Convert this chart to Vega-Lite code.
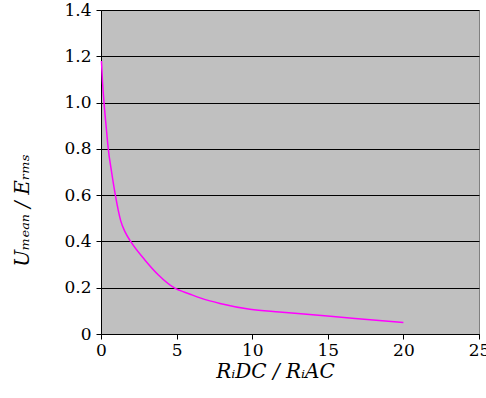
{
  "$schema": "https://vega.github.io/schema/vega-lite/v6.json",
  "width": 378,
  "height": 324,
  "autosize": "none",
  "padding": {"left": 101, "top": 10, "right": 7, "bottom": 64},
  "background": "white",
  "config": {"view": {"fill": "#c0c0c0", "stroke": "#808080", "strokeWidth": 1}},
  "data": {"values": [
    {"ratio": 0.03, "u": 1.18},
    {"ratio": 0.1, "u": 1.09},
    {"ratio": 0.2, "u": 1.0},
    {"ratio": 0.35, "u": 0.89},
    {"ratio": 0.48, "u": 0.8},
    {"ratio": 0.7, "u": 0.7},
    {"ratio": 0.95, "u": 0.6},
    {"ratio": 1.3, "u": 0.49},
    {"ratio": 1.6, "u": 0.44},
    {"ratio": 1.96, "u": 0.4},
    {"ratio": 2.9, "u": 0.32},
    {"ratio": 3.8, "u": 0.255},
    {"ratio": 4.83, "u": 0.2},
    {"ratio": 5.9, "u": 0.172},
    {"ratio": 6.6, "u": 0.155},
    {"ratio": 7.87, "u": 0.132},
    {"ratio": 9.85, "u": 0.107},
    {"ratio": 11.8, "u": 0.095},
    {"ratio": 13.8, "u": 0.084},
    {"ratio": 16.8, "u": 0.067},
    {"ratio": 20, "u": 0.05}
  ]},
  "mark": {"type": "line", "color": "#ff00ff", "strokeWidth": 1.5, "interpolate": "monotone"},
  "encoding": {
    "x": {
      "field": "ratio", "type": "quantitative",
      "scale": {"domain": [0, 25], "nice": false},
      "axis": {
        "values": [0, 5, 10, 15, 20, 25],
        "grid": false,
        "domainColor": "black", "domainWidth": 1,
        "tickColor": "black", "tickSize": 5, "tickWidth": 1,
        "labelFont": "DejaVu Serif", "labelFontSize": 17, "labelColor": "black", "labelPadding": 3,
        "labelFlush": false,
        "title": "RᵢDC / RᵢAC",
        "titleFont": "DejaVu Serif", "titleFontSize": 20, "titleFontWeight": "normal", "titleFontStyle": "italic",
        "titleColor": "black",
        "titleX": 174, "titleY": 43, "titleAlign": "center", "titleBaseline": "alphabetic"
      }
    },
    "y": {
      "field": "u", "type": "quantitative",
      "scale": {"domain": [0, 1.4], "nice": false},
      "axis": {
        "values": [0, 0.2, 0.4, 0.6, 0.8, 1.0, 1.2, 1.4],
        "labelExpr": "datum.value == 0 ? '0' : format(datum.value, '.1f')",
        "grid": true, "gridColor": "black", "gridWidth": 1, "gridOpacity": 1,
        "domainColor": "black", "domainWidth": 1,
        "tickColor": "black", "tickSize": 5, "tickWidth": 1,
        "labelFont": "DejaVu Serif", "labelFontSize": 17, "labelColor": "black", "labelPadding": 5,
        "labelFlush": false,
        "title": "Uₘₑₐₙ / Eᵣₘₛ",
        "titleFont": "DejaVu Serif", "titleFontSize": 20, "titleFontWeight": "normal", "titleFontStyle": "italic",
        "titleColor": "black",
        "titleX": -79, "titleY": 200, "titleAngle": -90, "titleAlign": "center", "titleBaseline": "middle"
      }
    }
  }
}
